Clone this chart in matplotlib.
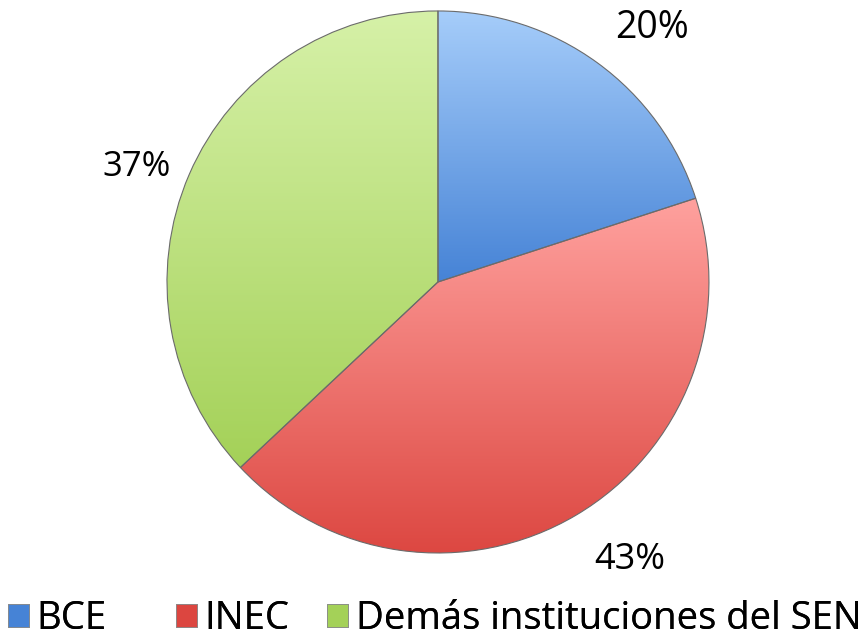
import numpy as np
import matplotlib
matplotlib.use("Agg")
from matplotlib import pyplot as plt
from matplotlib.patches import Patch
#
labels=["BCE","INEC","Demás instituciones del SEN"]
values=[20,43,37]
pct_text=["20%","43%","37%"]
#
tops=["#a6cdfa","#ffa19e","#d6f1a8"]
bots=["#4683d6","#dc4640","#a4d158"]
# label placement (angle nudge in degrees, distance in radii)
label_nudge=[-4.1,4.0,2.6]
label_dist=[1.225,1.247,1.19]
label_size=[27,26,25]
# legend item left edges (figure fraction)
leg_x=[8/863,176/863,327/863]
#
plt.rcParams['font.family']=['Open Sans','DejaVu Sans']
fig=plt.figure(figsize=(8.63,6.41),dpi=100)
ax=fig.add_axes([0.1935,0.1373,0.628,0.8456])
wedges,_=ax.pie(values,startangle=90,counterclock=False,radius=1,
                colors=bots,wedgeprops=dict(edgecolor="#6b6b6b",linewidth=0.8))
ax.set_aspect('equal')
ax.axis('off')
## gradient fill per wedge (top light -> bottom dark)
for w,c0,c1 in zip(wedges,tops,bots):
    a=np.array(matplotlib.colors.to_rgb(c0))
    b=np.array(matplotlib.colors.to_rgb(c1))
    t=np.linspace(0,1,256)[:,None]
    img=(a[None,:]*(1-t)+b[None,:]*t)[:,None,:]
    v=w.get_path().vertices
    ymin,ymax=v[:,1].min(),v[:,1].max()
    im=ax.imshow(img,extent=[-1,1,ymin,ymax],origin='upper',aspect='auto',zorder=w.get_zorder()+0.1)
    im.set_clip_path(w)
    w.set_zorder(w.get_zorder()+0.2)
    w.set_facecolor('none')
ax.set_xlim(-1,1)
ax.set_ylim(-1,1)
## percent labels
for w,txt,n,d,s in zip(wedges,pct_text,label_nudge,label_dist,label_size):
    ang=np.deg2rad((w.theta1+w.theta2)/2+n)
    ax.text(d*np.cos(ang),d*np.sin(ang),txt,ha='center',va='center',fontsize=s,color='black')
## legend: one entry per block so the uneven spacing can be kept
for lab,c,x in zip(labels,bots,leg_x):
    h=Patch(facecolor=c,edgecolor='#8a8a8a',linewidth=0.6)
    lg=fig.legend([h],[lab],loc='center left',bbox_to_anchor=(x,22/641),frameon=False,
                  fontsize=27.5,handlelength=0.55,handleheight=0.55,handletextpad=0.2,
                  borderaxespad=0.0,borderpad=0.0)
    fig.add_artist(lg)
fig.savefig("out.png",dpi=100)
